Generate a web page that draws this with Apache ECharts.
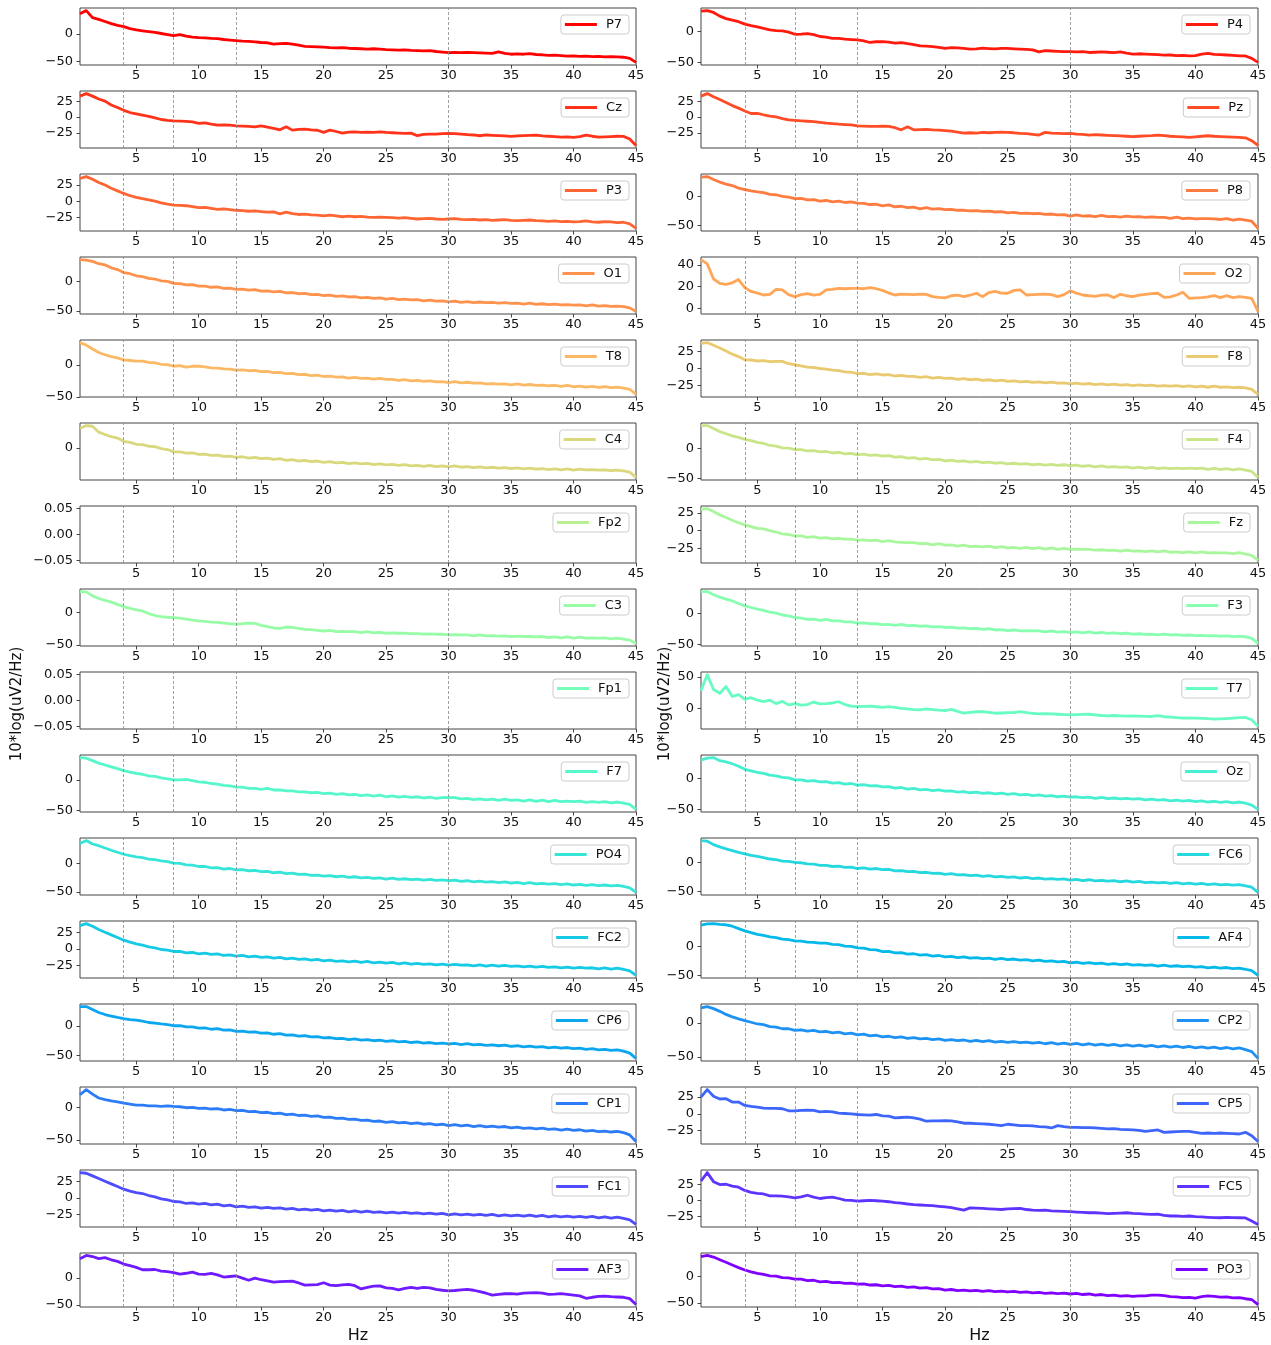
<!DOCTYPE html>
<html>
<head>
<meta charset="utf-8">
<title>EEG power spectral density per channel</title>
<script src="https://cdn.jsdelivr.net/npm/echarts@6/dist/echarts.min.js"></script>
<style>
  html, body { margin: 0; padding: 0; background: #fff; }
  #chart { width: 1271px; height: 1345px; }
</style>
</head>
<body>
<div id="chart"></div>
<script>
// Frequency grid (Hz) shared by every channel
const freqs = [
  0.5, 1, 1.5, 2, 2.5, 3, 3.5, 4, 4.5, 5,
  5.5, 6, 6.5, 7, 7.5, 8, 8.5, 9, 9.5, 10,
  10.5, 11, 11.5, 12, 12.5, 13, 13.5, 14, 14.5, 15,
  15.5, 16, 16.5, 17, 17.5, 18, 18.5, 19, 19.5, 20,
  20.5, 21, 21.5, 22, 22.5, 23, 23.5, 24, 24.5, 25,
  25.5, 26, 26.5, 27, 27.5, 28, 28.5, 29, 29.5, 30,
  30.5, 31, 31.5, 32, 32.5, 33, 33.5, 34, 34.5, 35,
  35.5, 36, 36.5, 37, 37.5, 38, 38.5, 39, 39.5, 40,
  40.5, 41, 41.5, 42, 42.5, 43, 43.5, 44, 44.5, 45
];

// Band edges: delta/theta, theta/alpha, alpha/beta, beta/gamma
const bandEdges = [4, 8, 13, 30];
const freqTicks = [5, 10, 15, 20, 25, 30, 35, 40, 45];

// Channel order (left column, right column, row by row)
const channels = ['P7','P4','Cz','Pz','P3','P8','O1','O2','T8','F8','C4','F4','Fp2','Fz','C3','F3',
                  'Fp1','T7','F7','Oz','PO4','FC6','FC2','AF4','CP6','CP2','CP1','CP5','FC1','FC5','AF3','PO3'];

// PSD in 10*log10(uV^2/Hz), one value per frequency bin
const P7 = [37,43,30,27,23,19,16,13.5,10,7.5, 6,4.5,3,1,-1,-3,-1,-4,-5.5,-6.5,
  -7,-8,-8.5,-10,-11,-12,-13,-13.5,-14.5,-15.5, -16,-18.5,-17.5,-17,-18.5,-20.5,-22.5,-23,-23.5,-24,
  -25,-25.5,-25,-26,-26.5,-27,-27.5,-27,-27.5,-28.5, -29,-29.5,-29,-30,-30.5,-31,-30.5,-32,-33,-34,
  -33.5,-34,-33.5,-34,-34.5,-35,-35.5,-32.5,-35.5,-37, -36.5,-37,-36,-37.5,-38,-39,-38.5,-39.5,-40.5,-40,
  -41,-40.5,-41.5,-41,-42,-41.5,-42,-42.5,-44.5,-52];
const P4 = [33,34,31,25,21,18.5,16,12,9.5,7.5, 5,2.6,1.5,1,-1,-4.4,-4,-3.3,-5,-8,
  -9,-11,-11,-12.4,-13,-13.5,-15,-17.7,-16.5,-16.3, -17,-18.9,-18,-19.5,-21,-23.2,-23.5,-24.3,-25.5,-27.4,
  -26,-26.3,-27.4,-28.5,-28,-27,-27.5,-28,-27.4,-27.4, -28,-28.5,-29,-29.7,-32.9,-31,-31.5,-32,-32.5,-32.4,
  -33,-32.5,-33.9,-33.5,-33,-33.5,-34,-33,-35,-36.6, -36,-36.5,-37,-37.5,-38.2,-38,-39,-38.5,-39.3,-39,
  -36.5,-35.5,-37,-37.5,-38,-38.5,-39.3,-39.5,-43.5,-50];
const Cz = [33,37,33,28.5,25,19,15,10.5,7,5, 3,1,-1.5,-4,-5.5,-6.2,-6.5,-7,-7.8,-10,
  -9.5,-11.5,-13,-12.5,-13,-14,-14.5,-15,-15.6,-14, -16,-18,-20.3,-15.6,-20.8,-19.5,-19.2,-20.5,-21,-24.4,
  -20.8,-23,-25.5,-24,-23.5,-24.5,-24,-24.4,-23.5,-24.5, -25,-25.5,-26,-25.5,-29.7,-27.5,-27,-27,-26.5,-26,
  -26.5,-27,-28,-28.5,-29.7,-28.5,-29,-29.5,-30,-30.7, -30,-29.5,-29,-28.6,-30,-30.5,-31,-32,-31.5,-32.2,
  -31,-28.6,-30.5,-32,-31.5,-31,-30.5,-30.7,-34.8,-45];
const Pz = [33,37,32,27.7,23,18,14,9.4,5.5,5.8, 3.5,1.5,0,-2.5,-4.7,-5.5,-6.2,-6.8,-7.3,-8.5,
  -9.8,-10.5,-11.4,-12,-12.5,-14,-14.5,-15,-15,-14.5, -15,-17,-20.3,-15.6,-20.3,-20,-19.5,-20.5,-20.8,-21.5,
  -22.5,-24,-25.5,-25,-25.5,-24.5,-25,-24.5,-24,-24.4, -25,-26,-26.5,-27.5,-28.6,-24.4,-25.5,-26,-26.5,-26,
  -27,-27.5,-28.6,-28,-28.5,-29,-29.5,-30,-30.5,-31.2, -30.5,-30,-29.5,-28.6,-29.5,-30.5,-31,-31.5,-32.3,-31.5,
  -30.5,-29.7,-30.5,-31,-31.5,-32,-32.3,-33,-37.5,-45];
const P3 = [35,38,34,29,25,20,16,12,8.5,6, 4,2,0,-2.5,-4.5,-6,-6.5,-7,-8.5,-10,
  -9.5,-11,-12.5,-12,-13,-14,-14.5,-15.5,-15,-16, -17,-16.5,-19.5,-17,-19,-20.5,-20,-21,-21.5,-22.5,
  -21.5,-22.5,-24,-23,-24,-23.5,-24.5,-25,-24.5,-25, -25.5,-26,-25.5,-26.5,-27.5,-27,-26.5,-27.5,-28,-27.5,
  -27,-28,-28.5,-28,-29,-28.5,-29.5,-29,-28.5,-29.5, -30,-29.5,-29,-30,-30.5,-31,-30.5,-31.5,-31,-32,
  -31.5,-30.5,-32,-32.5,-31.5,-32,-33,-32.5,-35,-42];
const P8 = [34,35,30,25.5,22,19.5,15,12.5,10,8.5, 7,4,3.5,0.5,-0.5,-3.4,-3,-5.5,-5,-7.5,
  -6.5,-9,-7.5,-10,-9,-11,-11.5,-13.5,-13,-16, -14,-17.5,-16.5,-19,-18,-21,-19,-21.5,-20.5,-22.5,
  -22,-23.5,-23.5,-24.5,-24,-25.5,-25,-26.5,-26,-28, -27,-29,-28.5,-29.5,-29,-30.5,-30,-31.5,-31,-33.5,
  -31.5,-33.5,-33,-34.5,-32.5,-34.5,-34,-35.5,-33.5,-35, -34.5,-36,-35,-36,-36,-37.5,-35.5,-38,-37,-38.5,
  -38,-38,-38.5,-39.5,-38,-40.5,-39,-40.5,-42.5,-55];
const O1 = [37,36,34,30,28,23,20,15,13,9.5, 8,5,4,1,0,-3.5,-4,-6,-5.5,-8,
  -8,-10,-9.5,-12,-11.5,-13.5,-13,-15,-14,-16.5, -16,-18,-17,-19.5,-19,-21,-20.5,-22.5,-22,-24,
  -23.5,-25.5,-24.5,-26.5,-26,-28,-27,-29,-28,-30, -29,-31,-30,-31.5,-31,-33,-32,-33.5,-33,-35,
  -33.5,-35.5,-34.5,-36,-35,-36,-35.5,-37,-36,-37.5, -37,-38.5,-37,-39,-38,-39.5,-38.5,-40,-39.5,-40.5,
  -40,-41.5,-40,-42,-41,-42.5,-42,-43,-45,-51];
const O2 = [45,41,27,23,22,23.5,26.5,19,15.5,14, 12.2,12.8,17.5,17,12.5,10.7,12.5,13.5,12,12.8,
  16.9,17.5,18.4,18,18.4,18.4,18,19,18,16.5, 14,12.2,13,12.8,12.5,13,12.8,10.7,10,9.5,
  11.5,12,10.7,12,13.8,10.7,14.5,15.5,14,13.8, 16.5,17,12.2,12.5,12.8,13,12.5,10.7,12.5,16,
  14,12.2,11.5,11,12,12.2,9.8,12.8,11.5,10.7, 12,12.8,13.5,13.8,10,10.5,12.2,14.7,9.1,9.5,
  9.8,10.5,11.6,9.8,11.6,9.8,10.7,10,9.1,-3];
const T8 = [35,31,25,19.5,16,13,11,8,7,6, 6,4,3.5,1,0.5,-2,-1,-3.5,-2,-2,
  -3,-4.5,-5,-6,-6.5,-8,-7.5,-9,-8.5,-10.5, -10,-12,-11.5,-13.5,-13,-15,-14.5,-16.5,-16,-18,
  -17.5,-19,-18.5,-20.5,-19.5,-21,-20.5,-22,-21,-22.5, -22.5,-24,-23,-25,-24,-25.5,-25,-26.5,-26,-27.5,
  -26,-28,-27,-28.5,-28,-29.5,-29,-30,-29.5,-31, -29.5,-31.5,-30.5,-32,-31.5,-32.5,-32,-33.5,-32,-34,
  -33,-34.5,-33.5,-35,-34,-35.5,-34.5,-36,-38,-46];
const F8 = [37,38,34,30,25.5,21,17.5,13,12.5,11, 11.5,10,10.5,10.5,7,5.5,4,2,1.5,0,
  -1,-2.5,-3,-5,-5.5,-7.5,-7,-9,-8,-9.5, -9,-11,-10,-11.5,-11.5,-13,-12,-14,-13,-14.5,
  -14,-16,-15,-16.5,-15.5,-17.5,-16.5,-18,-17,-19, -18,-19.5,-19,-20.5,-19.5,-21,-20,-21.5,-21,-22.5,
  -21.5,-23,-22,-23.5,-22.5,-24,-23,-24.5,-23.5,-25, -24,-25,-24.5,-26,-25,-26,-25,-26.5,-25.5,-27,
  -26,-27.5,-26,-27.5,-27,-28,-27.5,-28.5,-30.5,-38];
const C4 = [30,34,33,24,20.5,17,15,10,8.5,5.5, 5,2.5,2,-1,-2.5,-6,-6,-8,-7.5,-10,
  -9.5,-11.5,-11,-13,-12.5,-14.5,-13.5,-15.5,-14.5,-16.5, -15.5,-17.5,-16.5,-19,-18,-20,-19,-21,-20,-22,
  -21,-23,-22,-24,-23,-24.5,-23.5,-25.5,-24.5,-26, -25,-26.5,-25.5,-27.5,-26.5,-28,-26.5,-28.5,-27.5,-29,
  -27.5,-29.5,-28.5,-30,-29,-30.5,-29.5,-31,-30,-31.5, -30.5,-32,-31,-32.5,-31.5,-33,-32,-33.5,-32,-34,
  -32.5,-33.5,-33,-34,-33.5,-34.5,-34,-35,-37,-45];
const F4 = [38,38,33,28,24.5,21,18.5,15,13,10, 8.5,5,4,1,0.5,-2,-2,-4,-3.5,-5.5,
  -5,-7.5,-6.5,-9,-8,-10.5,-9.5,-11.5,-10.5,-12.5, -12,-14.5,-13.5,-16,-15,-17.5,-16.5,-19,-18,-20.5,
  -19.5,-21.5,-20.5,-22.5,-21.5,-23.5,-22.5,-24.5,-23.5,-25.5, -24.5,-26,-25,-27,-26,-27.5,-26.5,-28,-27,-28.5,
  -27.5,-29.5,-28.5,-30.5,-29,-31,-30,-31.5,-30.5,-32.5, -31,-33,-31.5,-33.5,-32,-33.5,-32.5,-33.5,-32.5,-33.5,
  -32.5,-34.5,-33,-35,-33.5,-35.5,-34,-36,-38,-48];
const Fp2 = [];
const Fz = [30,31,27,22,18.5,14.5,11,8,5.5,3, 2.5,0,-2,-4.5,-5.5,-7.5,-7.5,-9.5,-8.5,-10.5,
  -10,-11.5,-11,-12,-12,-13.5,-13,-14,-13.5,-15.5, -14,-16,-16.5,-17,-17,-18.5,-18,-20,-18.5,-20.5,
  -20,-22,-20.5,-22.5,-22,-23,-22,-24,-22.5,-24.5, -23.5,-25,-23.5,-25.5,-24,-26,-24.5,-26.5,-25,-26.5,
  -26,-26.5,-26.5,-27.5,-27,-28,-27.5,-29,-27.5,-29, -28.5,-29.5,-28.5,-30,-28.5,-30.5,-30,-31,-30,-31.5,
  -30,-31.5,-31,-31.5,-31.5,-32.5,-31,-33,-35,-42];
const C3 = [31.5,31,25,21,18,15.5,12,8.6,6,3.5, 2,-2,-5,-6.5,-7.6,-8.2,-9,-10.5,-12,-13.3,
  -14,-15,-15.5,-16.5,-17.5,-18,-17.5,-16.5,-17,-20, -22,-24,-24.5,-22.5,-23,-24.5,-26,-26.5,-27.5,-28.6,
  -27.5,-29.5,-29,-29.5,-29.5,-31,-29.5,-31.5,-30.5,-32, -31.5,-32,-32,-32.5,-32.5,-33.5,-33,-33.5,-33.5,-34.5,
  -34,-34.5,-34.5,-36,-34.5,-36,-35.5,-36.5,-36,-37, -36.5,-37,-37,-37.5,-37,-38.5,-37.5,-39,-37.5,-39.5,
  -38,-39.5,-39,-39.5,-39,-40.5,-39.5,-41,-42.5,-47.5];
const F3 = [35,35,30,26,23,20,16,12,9.5,7, 5,2,0.5,-2.5,-4,-6.5,-7.5,-9.5,-9,-11,
  -9.5,-12,-12,-13.5,-13.5,-15.5,-15,-16.5,-16.5,-18, -17.5,-19,-17.5,-19.5,-19,-20.5,-20,-21.5,-21,-22.5,
  -22,-23.5,-23,-24.5,-24,-25.5,-24.5,-26.5,-26,-27.5, -26.5,-28,-27.5,-28,-28,-29.5,-28,-30,-29,-30.5,
  -29.5,-31,-29.5,-31.5,-30.5,-32,-31,-32.5,-31.5,-33, -32.5,-33.5,-33,-34.5,-33,-34.5,-34,-35,-34.5,-35.5,
  -35,-36,-35.5,-36.5,-36,-37,-36.5,-37.5,-40,-48];
const Fp1 = [];
const T7 = [28,54,30,24,35,19,22,14.3,17,13, 10.6,13,7.5,11,5.5,7.5,5,6,10,7,
  7.5,8.5,10.5,6,3.5,2.6,3,3.5,2.5,1.6, 2.6,1.5,0,-1,-2,-2.6,-1,-2,-3,-3.6,
  -1.6,-5,-7.9,-6.5,-5.5,-5.2,-6.5,-7.9,-7.5,-7, -6.8,-5.2,-7,-8,-8.9,-8.5,-9,-9.5,-10,-10.5,
  -10,-9.8,-9.5,-10.5,-11.5,-12.1,-11.5,-12,-12.5,-12.1, -12.5,-13,-13.1,-11.6,-13.5,-14.2,-15,-15.8,-15.5,-15.8,
  -16,-16.5,-17.4,-17,-16.5,-15.8,-15,-14.7,-18.4,-29];
const F7 = [36,35,31,27,24,21,18,15,12.5,10.5, 9,6.5,5.5,3,1.5,0,0,0.5,-1.5,-3.5,
  -4,-6,-7,-9,-10,-12,-12,-14,-14,-15.5, -14,-16.5,-16.5,-18,-18,-19.5,-19.5,-21,-20.5,-22.5,
  -21.5,-23.5,-22.5,-24.5,-23.5,-25.5,-24.5,-26.5,-25,-27.5, -26,-28,-27,-28.5,-27.5,-29.5,-28,-30,-29,-28.5,
  -29,-31,-30,-32,-31,-32.5,-31.5,-33.5,-31.5,-33.5, -32.5,-34.5,-32.5,-35,-33,-35.5,-33.5,-35.5,-34.5,-35.5,
  -34.5,-36.5,-35.5,-36.5,-35.5,-37.5,-36,-38,-40,-48];
const Oz = [30,33,34,29,27,24,20,15,12.5,10, 8.5,5.5,4.5,2,1,-2,-2,-4,-3.5,-5.5,
  -5,-7.5,-6.5,-9,-8,-10.5,-10,-12,-11.5,-13.5, -13,-15.5,-14.5,-17,-16,-18.5,-17.5,-19.5,-18.5,-20.5,
  -20,-22,-21,-23,-22,-24,-23,-25,-23.5,-25.5, -24.5,-26.5,-25.5,-27.5,-26.5,-28.5,-27.5,-29.5,-28.5,-30,
  -29.5,-31,-30,-32,-30.5,-32.5,-31.5,-33,-32,-33.5, -32.5,-34.5,-33.5,-35,-34,-36,-35,-36.5,-35.5,-37.5,
  -36,-38,-37,-38.5,-37.5,-39.5,-38,-40,-43,-50];
const PO4 = [35,40,34,31,27,23,19.5,16,13.5,11.5, 10,7.5,6.5,4.5,3,0.5,0,-2.5,-3,-5.5,
  -5.5,-8,-7.5,-10,-9,-11.5,-11,-13,-12.5,-14.5, -14,-16.5,-15.5,-18,-17,-19.5,-19,-21,-20.5,-22.5,
  -21.5,-23.5,-22.5,-24.5,-23.5,-25.5,-24.5,-26.5,-25.5,-27.5, -26,-28,-27,-28.5,-27.5,-29.5,-28,-30,-29,-30.5,
  -29.5,-31.5,-30.5,-32.5,-31,-33,-32,-34,-32.5,-34.5, -33.5,-35.5,-34,-36,-35,-36.5,-35.5,-37.5,-36,-38,
  -37,-38.5,-37.5,-39,-38,-39.5,-38.5,-40.5,-43,-51];
const FC6 = [38,37,31,27,23.5,20.5,17.5,15,12.5,10.5, 8.5,6,5,2.5,2,0,-0.5,-2.5,-3,-5,
  -5,-7,-6.5,-8.5,-8,-10.5,-9.5,-11.5,-10.5,-12.5, -12,-14.5,-14,-16,-15.5,-17.5,-17,-19,-18.5,-20.5,
  -19.5,-21.5,-21,-23,-22,-24,-23,-25,-24,-26, -25,-27,-26,-28,-27,-29,-28,-29.5,-28.5,-30.5,
  -29.5,-31.5,-30,-32,-31,-32.5,-31.5,-33.5,-32,-34, -33,-35,-34,-35.5,-34.5,-36.5,-35,-37,-36,-37.5,
  -36.5,-38.5,-37,-39,-38,-39.5,-38.5,-40.5,-43,-52];
const FC2 = [35,38,34,29,25,21,17,13,10,7.5, 5.5,3,1.5,-1,-2,-4,-4,-6,-5.5,-7.5,
  -6.5,-8.5,-7.5,-10,-9,-11,-10,-12,-11,-13, -12,-14,-13,-15,-14,-16,-15,-17,-16,-18,
  -17,-19,-18,-19.5,-18.5,-20.5,-19,-21,-20,-21.5, -20.5,-22.5,-21,-23,-22,-23.5,-22.5,-24,-23,-24.5,
  -23.5,-24.5,-24,-25.5,-24,-26,-24.5,-26,-25,-26.5, -25.5,-27,-26,-27.5,-26.5,-28,-27,-28.5,-27.5,-29,
  -28,-29,-28.5,-30,-28.5,-30.5,-29,-31,-33,-40];
const AF4 = [36,38,38.5,37,36.5,34,30,26,23,20, 18.5,16,14.5,12,11,9,8.5,7,6.5,5,
  5,3,2.5,0,-0.5,-3,-3.5,-6,-6.5,-9.5, -9,-11.5,-11,-13.5,-13,-15.5,-14.5,-17,-16,-18.5,
  -17.5,-19.5,-18.5,-20.5,-19.5,-21.5,-20.5,-22.5,-21,-23, -22,-24,-23,-25,-24,-26,-25,-27,-26,-28.5,
  -27.5,-29.5,-28,-30,-29,-31,-30,-31.5,-30.5,-32.5, -31.5,-33,-32,-34,-32.5,-34.5,-33.5,-35,-34,-36,
  -35,-37,-36,-37.5,-36.5,-38.5,-37.5,-39.5,-42,-50];
const CP6 = [33,33,28,23,19.5,17,14.5,12.5,11,10, 8.5,6,5,3.5,2.5,0.5,0.5,-1.5,-1.5,-3.5,
  -3,-5.5,-4.5,-7,-6.5,-9,-8.5,-10.5,-10,-12, -11.5,-14,-13,-15.5,-15,-17,-16.5,-18.5,-18,-20,
  -19.5,-21.5,-21,-23,-22,-24,-23,-25,-24,-26, -25,-27,-26,-28,-27,-29,-28,-30,-29,-30.5,
  -29.5,-31.5,-30,-32,-31,-33,-32,-33.5,-32.5,-34.5, -33.5,-35.5,-34,-36,-35,-37,-36,-37.5,-36.5,-38.5,
  -37.5,-39.5,-38.5,-40.5,-39.5,-41.5,-40.5,-42.5,-46,-55];
const CP2 = [22,24,21,17,12.5,9,6,3.5,1,-1.5, -2.5,-5.5,-6,-8.5,-8.5,-11,-10,-12,-11,-13,
  -12.5,-14.5,-13.5,-16,-15,-17.5,-16.5,-19,-18,-20.5, -19.5,-21.5,-20.5,-22.5,-21.5,-23.5,-22.5,-24.5,-23.5,-25.5,
  -24.5,-26,-25,-27,-25.5,-27.5,-26,-28,-27,-28.5, -27.5,-29,-28,-29.5,-28.5,-30.5,-29,-31,-29.5,-31.5,
  -30,-32,-30.5,-32.5,-31,-33,-31.5,-33.5,-32,-34, -32.5,-34.5,-33,-35,-33.5,-35.5,-34,-36,-34.5,-36.5,
  -35,-37,-35.5,-37.5,-36,-38,-36.5,-39,-42,-52];
const CP1 = [20,28,21,15,12.5,10.5,9,7,5.5,4, 4,3,3,2,3,2,1.5,0,0.5,-1,
  -0.5,-2,-1.5,-3.5,-2.5,-4.5,-4,-6,-5.5,-7.5, -7,-9,-8.5,-10.5,-10,-12,-11.5,-13.5,-12.5,-15,
  -14.5,-16.5,-16,-18,-17.5,-19.5,-19,-21,-20.5,-22.5, -21.5,-23.5,-22.5,-24.5,-23.5,-25.5,-24.5,-26.5,-25.5,-27.5,
  -26,-28,-27,-29,-27.5,-29.5,-28.5,-30,-29,-31, -30,-32,-31,-32.5,-31.5,-33.5,-32.5,-34.5,-33,-35,
  -34,-36,-35,-37,-36,-37.5,-36.5,-38.5,-42,-52];
const CP5 = [25,36,26,22,22.5,17.5,17.5,12.5,11,10, 8.5,8,8,7.5,4.5,4.5,5,5.5,5,3,
  3.5,3,1,0.5,0,-1,-1.5,-2,-1,-3, -3.5,-6,-5.5,-5,-6,-8,-11,-10.5,-10.5,-10,
  -10.5,-12,-14,-14,-14.5,-15,-15.5,-16.5,-17.5,-15.5, -16.5,-17.5,-17.5,-18,-19,-19.5,-21,-17.5,-19,-20,
  -20,-20.5,-20.5,-21,-21.5,-22.5,-22,-23,-23.5,-24, -24.5,-26,-25,-24,-27.5,-27,-26.5,-26,-26,-27.5,
  -29,-28.5,-29,-28.5,-29,-29.5,-30,-27.5,-32.5,-41];
const FC1 = [38,37,33,29,25,21,17,13,10,8, 6.5,3.5,1.5,-1.5,-3,-5.5,-6,-8.5,-7.5,-9.5,
  -8.5,-10.5,-9.5,-12,-11,-13.5,-12.5,-14.5,-13.5,-15.5, -14.5,-16,-15,-17,-16,-18,-17,-18.5,-17.5,-19.5,
  -18.5,-20,-19,-21,-19.5,-21.5,-20,-22,-21,-22.5, -21.5,-23,-22,-23.5,-22.5,-24,-23,-24.5,-23.5,-25.5,
  -24,-25.5,-24.5,-26,-25,-26.5,-25,-27,-25.5,-27, -26,-27.5,-26,-28,-26.5,-28.5,-27,-28.5,-27.5,-29,
  -28,-29.5,-28,-30,-28.5,-30.5,-29,-31,-33,-40];
const FC5 = [30,43,29,24.5,25,22,20.5,15.5,12.5,11, 10,7,7,6.7,5.5,4,5.5,8,5,3,
  4.5,5,3,0.5,0,-1,-0.5,0,-0.5,-1, -2,-3.5,-4,-5.5,-6.5,-7,-7.5,-8,-9,-10,
  -11,-13,-15,-11.5,-12,-12.3,-13,-13.5,-14,-13, -12.5,-12.3,-14,-15,-15.4,-15,-16,-16.4,-17,-17.4,
  -18,-18.5,-19,-19,-19.5,-20.5,-20,-19.5,-19,-20, -20.5,-21,-21.5,-21,-23,-24,-24,-24.5,-24,-25,
  -25.5,-26,-26.5,-26.7,-26,-26.5,-26.7,-27,-31.8,-37];
const AF3 = [36,42,40,36,38,34,31,26,23,20, 15.5,15.5,16,13,12,10,7.5,9,11,7.5,
  7,8.6,6,2,3,4,0,-4,0,-3, -5,-7.4,-6.5,-6,-5.7,-9,-13,-12.5,-12,-8.6,
  -13,-14,-12.5,-11.5,-14,-20,-17,-15,-14.3,-18, -19,-21.7,-19,-17,-19,-17,-18,-21,-22.5,-23.5,
  -23,-22,-21,-22.5,-25,-28,-31.6,-30,-29,-28.7, -29.5,-28,-27.5,-27,-28,-30,-29.5,-28.7,-30,-31.6,
  -33,-37.4,-35.5,-34,-33.3,-34.5,-35,-35.5,-38,-49];
const PO3 = [38,40,37,32,27,22,17,12.5,9,6, 4,1.5,1,-2,-2.5,-5,-5,-7.5,-7,-10,
  -9,-11.5,-11,-13,-12.5,-14.5,-14,-16,-15.5,-17.5, -16.5,-19,-18,-20.5,-19.5,-22,-21,-23.5,-23,-25.5,
  -24.5,-26.5,-25.5,-27,-26,-28,-26.5,-28.5,-27.5,-29, -28,-30,-29,-31,-30,-32,-31,-32.5,-31.5,-33,
  -32,-34,-33,-35,-34,-36,-35,-37,-36,-37.5, -36.5,-36.5,-35,-35,-36,-38,-38.5,-40,-39.5,-41,
  -38,-36.5,-37.5,-39,-38.5,-40.5,-40,-42,-43.5,-53];

const psdByChannel = [P7,P4,Cz,Pz,P3,P8,O1,O2,T8,F8,C4,F4,Fp2,Fz,C3,F3,
                      Fp1,T7,F7,Oz,PO4,FC6,FC2,AF4,CP6,CP2,CP1,CP5,FC1,FC5,AF3,PO3];

// Y tick values shown on each panel
const ticksWide = [-50, 0];
const ticksNarrow = [-25, 0, 25];
const ticksEmpty = [-0.05, 0, 0.05];
const ticksO2 = [0, 20, 40];
const ticksT7 = [0, 50];
const yTickSets = [ticksWide, ticksWide, ticksNarrow, ticksNarrow, ticksNarrow, ticksWide, ticksWide, ticksO2,
                   ticksWide, ticksNarrow, ticksWide, ticksWide, ticksEmpty, ticksNarrow, ticksWide, ticksWide,
                   ticksEmpty, ticksT7, ticksWide, ticksWide, ticksWide, ticksWide, ticksNarrow, ticksWide,
                   ticksWide, ticksWide, ticksWide, ticksNarrow, ticksNarrow, ticksNarrow, ticksWide, ticksWide];

// matplotlib "rainbow" colormap (gnuplot 33,13,10)
function rainbow(x) {
  const r = Math.min(1, Math.abs(2 * x - 0.5));
  const g = Math.sin(Math.PI * x);
  const b = Math.cos(Math.PI * x / 2);
  const c = v => Math.round(Math.max(0, Math.min(1, v)) * 255);
  return 'rgb(' + c(r) + ',' + c(g) + ',' + c(b) + ')';
}

const FONT = 'DejaVu Sans';
const W = 1271;
const panelH = 57, rowStep = 83, firstTop = 8;
const colLeft = [80, 701], colWidth = [556, 557];
const legendRight = [W - 629, W - 1250];
const frameColor = '#444';

const grids = [], xAxes = [], yAxes = [], series = [], legends = [];

channels.forEach((name, i) => {
  const col = i % 2, row = Math.floor(i / 2);
  const top = firstTop + row * rowStep;
  const vals = psdByChannel[i];
  const color = rainbow(1 - i / (channels.length - 1));
  const empty = vals.length === 0;

  // matplotlib-style autoscale: 5 % margin around the data
  let lo = -0.055, hi = 0.055;
  if (!empty) {
    const mn = Math.min(...vals), mx = Math.max(...vals);
    const pad = (mx - mn) * 0.05;
    lo = mn - pad; hi = mx + pad;
  }

  grids.push({
    left: colLeft[col], top: top, width: colWidth[col], height: panelH,
    show: true, borderColor: frameColor, borderWidth: 1, backgroundColor: '#fff'
  });

  xAxes.push({
    type: 'value', gridIndex: i, min: 0.5, max: 45,
    axisLine: { show: false, onZero: false },
    axisTick: { show: true, length: 3.5, customValues: freqTicks, lineStyle: { color: frameColor } },
    axisLabel: { customValues: freqTicks, margin: 4, fontSize: 13, color: '#111', fontFamily: FONT },
    splitLine: { show: false },
    name: row === 15 ? 'Hz' : '',
    nameLocation: 'middle', nameGap: 21,
    nameTextStyle: { fontSize: 16, color: '#111', fontFamily: FONT }
  });

  const ticks = yTickSets[i];
  yAxes.push({
    type: 'value', gridIndex: i, min: lo, max: hi,
    axisLine: { show: false, onZero: false },
    axisTick: { show: true, length: 3.5, customValues: ticks, lineStyle: { color: frameColor } },
    axisLabel: {
      customValues: ticks, margin: 7, fontSize: 13, color: '#111', fontFamily: FONT,
      formatter: v => {
        const s = empty ? Math.abs(v).toFixed(2) : String(Math.abs(Math.round(v)));
        return (v < -1e-9 ? '\u2212' : '') + s;
      }
    },
    splitLine: { show: false }
  });

  series.push({
    name: name, type: 'line', xAxisIndex: i, yAxisIndex: i,
    data: vals.map((v, k) => [freqs[k], v]),
    showSymbol: false, symbol: 'none', color: color,
    lineStyle: { color: color, width: 2.8, join: 'round' },
    silent: true, animation: false,
    markLine: {
      silent: true, symbol: 'none', animation: false,
      label: { show: false },
      lineStyle: { type: [3, 2], color: '#888', width: 0.8 },
      data: bandEdges.map(f => ({ xAxis: f }))
    }
  });

  legends.push({
    data: [name], right: legendRight[col], top: top + 7,
    icon: 'rect', itemWidth: 32, itemHeight: 3,
    borderColor: '#ccc', borderWidth: 1, borderRadius: 3,
    backgroundColor: 'rgba(255,255,255,0.8)',
    padding: [3, 7, 3, 4], selectedMode: false,
    textStyle: { fontSize: 13, color: '#111', fontFamily: FONT, padding: [0, 0, 0, 4] }
  });
});

const chart = echarts.init(document.getElementById('chart'), null, { renderer: 'canvas' });
chart.setOption({
  backgroundColor: '#fff',
  animation: false,
  grid: grids, xAxis: xAxes, yAxis: yAxes, series: series, legend: legends,
  graphic: [
    { type: 'text', x: 17, y: 704, rotation: Math.PI / 2,
      style: { text: '10*log(uV2/Hz)', fontSize: 15, fontFamily: FONT, fill: '#111', align: 'center', verticalAlign: 'middle' } },
    { type: 'text', x: 665, y: 704, rotation: Math.PI / 2,
      style: { text: '10*log(uV2/Hz)', fontSize: 15, fontFamily: FONT, fill: '#111', align: 'center', verticalAlign: 'middle' } }
  ]
});
</script>
</body>
</html>
